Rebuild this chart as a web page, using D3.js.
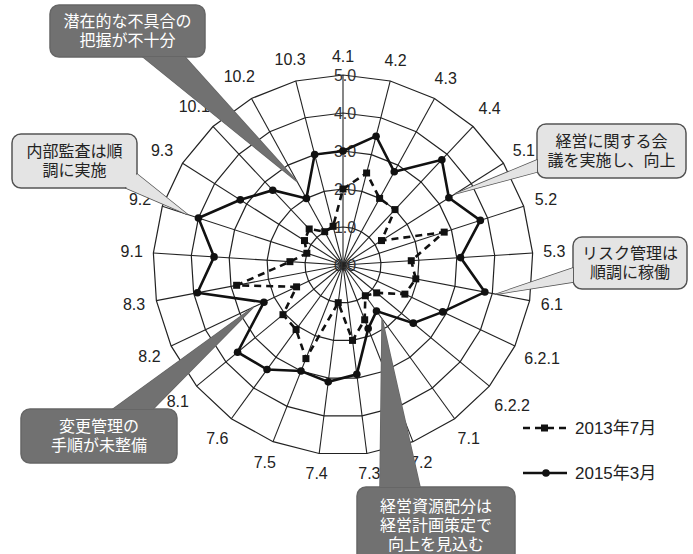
<!DOCTYPE html>
<html>
<head>
<meta charset="utf-8">
<script src="https://cdn.jsdelivr.net/npm/d3@7"></script>
<style>
  body { margin: 0; background: #fff; }
  svg { display: block; }
  text { font-family: "Liberation Sans", "Noto Sans CJK JP", sans-serif; }
  .jp { font-family: "Noto Sans CJK JP", sans-serif; }
</style>
</head>
<body>
<div class="graph"></div>
<script>
// categories clockwise from top
var categories = ["4.1", "4.2", "4.3", "4.4", "5.1", "5.2", "5.3", "6.1", "6.2.1", "6.2.2",
  "7.1", "7.2", "7.3", "7.4", "7.5", "7.6", "8.1", "8.2", "8.3", "9.1", "9.2", "9.3",
  "10.1", "10.2", "10.3"];

var values2013 = [2.0, 2.5, 2.0, 2.0, 1.2, 2.8, 1.8, 1.95, 1.8, 1.15,
  1.0, 1.55, 2.0, 1.0, 2.65, 2.1, 2.05, 1.35, 2.85, 1.4, 1.0, 1.2,
  1.3, 1.0, 1.05];

var values2015 = [3.0, 3.5, 2.8, 3.8, 3.3, 3.8, 3.1, 3.8, 2.9, 2.4,
  1.5, 1.8, 2.9, 3.1, 3.0, 3.4, 3.6, 2.3, 3.9, 3.4, 4.0, 3.2,
  2.7, 2.0, 3.0];

var tickValues = [0, 1, 2, 3, 4, 5];
var seriesNames = ["2013年7月", "2015年3月"];

// callouts: text lines, category / value the pointer aims at
var callouts = [
  { lines: ["潜在的な不具合の", "把握が不十分"], cat: "10.2", val: 2.5, dark: true,
    box: [50, 5, 155, 52], base: [[143, 57], [185, 57]] },
  { lines: ["内部監査は順", "調に実施"], cat: "9.2", val: 4.3, dark: false,
    box: [12, 134, 125, 54], base: [[126, 188], [137, 174]] },
  { lines: ["経営に関する会", "議を実施し、向上"], cat: "5.1", val: 3.5, dark: false,
    box: [537, 124, 149, 54], base: [[537, 160], [537, 172]] },
  { lines: ["リスク管理は", "順調に稼働"], cat: "6.1", val: 4.1, dark: false,
    box: [573, 237, 114, 52], base: [[573, 268], [573, 282]] },
  { lines: ["変更管理の", "手順が未整備"], cat: "8.2", val: 2.6, dark: true,
    box: [21, 409, 156, 54], base: [[113, 409], [153, 409]] },
  { lines: ["経営資源配分は", "経営計画策定で", "向上を見込む"], cat: "7.1", val: 1.75, dark: true,
    box: [357, 487, 158, 80], base: [[380, 487], [420, 487]] }
];

var width = 693, height = 554;
var cx = 343, cy = 265, R = 190;

var svg = d3.select(".graph").append("svg")
  .attr("width", width)
  .attr("height", height);

var r = d3.scaleLinear().domain([0, 5]).range([0, R]);
var angle = d3.scalePoint().domain(categories).range([0, 2 * Math.PI * (categories.length - 1) / categories.length]);

function pt(cat, v) {
  var a = angle(cat);
  return [cx + r(v) * Math.sin(a), cy - r(v) * Math.cos(a)];
}

var g = svg.append("g");

// rings
tickValues.slice(1).forEach(function (t) {
  g.append("path")
    .attr("d", d3.line()(categories.map(function (c) { return pt(c, t); })) + "Z")
    .attr("fill", "none")
    .attr("stroke", "#222")
    .attr("stroke-width", 1.2);
});

// spokes
g.selectAll(".spoke").data(categories).enter().append("line")
  .attr("x1", cx).attr("y1", cy)
  .attr("x2", function (d) { return pt(d, 5)[0]; })
  .attr("y2", function (d) { return pt(d, 5)[1]; })
  .attr("stroke", "#222")
  .attr("stroke-width", 1.1);

// tick labels
g.selectAll(".tick").data(tickValues).enter().append("text")
  .attr("x", cx + 2)
  .attr("y", function (d) { return cy - r(d); })
  .attr("dy", "0.35em")
  .attr("text-anchor", "middle")
  .attr("font-size", 16)
  .attr("fill", "#333")
  .text(function (d) { return d3.format(".1f")(d); });

// category labels
g.selectAll(".cat").data(categories).enter().append("text")
  .attr("font-size", 16)
  .attr("fill", "#222")
  .attr("text-anchor", "middle")
  .attr("dy", "0.35em")
  .text(function (d) { return d; })
  .each(function (d) {
    var a = angle(d);
    var w = this.getBBox().width;
    var rr = R + 10 + (w / 2) * Math.abs(Math.sin(a)) + 9 * Math.abs(Math.cos(a));
    d3.select(this)
      .attr("x", cx + rr * Math.sin(a))
      .attr("y", cy - rr * Math.cos(a));
  });

// series
var line = d3.line()
  .x(function (d, i) { return pt(categories[i], d)[0]; })
  .y(function (d, i) { return pt(categories[i], d)[1]; })
  .curve(d3.curveLinearClosed);

g.append("path")
  .attr("d", line(values2013))
  .attr("fill", "none")
  .attr("stroke", "#111")
  .attr("stroke-width", 2.6)
  .style("stroke-dasharray", "7, 5");

g.selectAll(".m13").data(values2013).enter().append("rect")
  .attr("x", function (d, i) { return pt(categories[i], d)[0] - 3.5; })
  .attr("y", function (d, i) { return pt(categories[i], d)[1] - 3.5; })
  .attr("width", 7).attr("height", 7)
  .attr("fill", "#111");

g.append("path")
  .attr("d", line(values2015))
  .attr("fill", "none")
  .attr("stroke", "#111")
  .attr("stroke-width", 2.6);

g.selectAll(".m15").data(values2015).enter().append("circle")
  .attr("cx", function (d, i) { return pt(categories[i], d)[0]; })
  .attr("cy", function (d, i) { return pt(categories[i], d)[1]; })
  .attr("r", 3.8)
  .attr("fill", "#111");

// callouts
callouts.forEach(function (c) {
  var tip = pt(c.cat, c.val);
  var fill = c.dark ? "#717171" : "#e4e4e4";
  var stroke = c.dark ? "#666" : "#555";
  var cg = svg.append("g");
  cg.append("rect")
    .attr("x", c.box[0]).attr("y", c.box[1])
    .attr("width", c.box[2]).attr("height", c.box[3])
    .attr("rx", 9).attr("ry", 9)
    .attr("fill", fill)
    .attr("stroke", stroke)
    .attr("stroke-width", 1.5);
  cg.append("path")
    .attr("d", "M" + c.base[0] + "L" + tip + "L" + c.base[1] + "Z")
    .attr("fill", fill)
    .attr("stroke", stroke)
    .attr("stroke-width", 1.5);
  // cover the seam between box and pointer
  cg.append("path")
    .attr("d", "M" + c.base[0] + "L" + tip + "L" + c.base[1] + "Z")
    .attr("fill", fill)
    .attr("stroke", "none")
    .attr("transform", "translate(0,0)");
  cg.append("rect")
    .attr("x", c.box[0] + 1).attr("y", c.box[1] + 1)
    .attr("width", c.box[2] - 2).attr("height", c.box[3] - 2)
    .attr("rx", 8).attr("ry", 8)
    .attr("fill", fill);
  var n = c.lines.length;
  var lh = 19;
  var midY = c.box[1] + (n === 3 ? 38 : c.box[3] / 2);
  c.lines.forEach(function (t, i) {
    cg.append("text")
      .attr("class", "jp")
      .attr("x", c.box[0] + c.box[2] / 2)
      .attr("y", midY + (i - (n - 1) / 2) * lh)
      .attr("dy", "0.35em")
      .attr("text-anchor", "middle")
      .attr("font-size", 16)
      .attr("fill", c.dark ? "#fff" : "#222")
      .text(t);
  });
});

// legend
var legend = svg.append("g").attr("transform", "translate(523, 428)");
legend.append("line")
  .attr("x1", 0).attr("x2", 44).attr("y1", 0).attr("y2", 0)
  .attr("stroke", "#111").attr("stroke-width", 2.6)
  .style("stroke-dasharray", "7, 5");
legend.append("rect")
  .attr("x", 18).attr("y", -3.5).attr("width", 7).attr("height", 7)
  .attr("fill", "#111");
legend.append("text")
  .attr("x", 52).attr("dy", "0.35em")
  .attr("font-size", 17).attr("fill", "#222")
  .text(seriesNames[0]);

var legend2 = svg.append("g").attr("transform", "translate(523, 473)");
legend2.append("line")
  .attr("x1", 0).attr("x2", 44).attr("y1", 0).attr("y2", 0)
  .attr("stroke", "#111").attr("stroke-width", 2.6);
legend2.append("circle")
  .attr("cx", 23).attr("cy", 0).attr("r", 3.8)
  .attr("fill", "#111");
legend2.append("text")
  .attr("x", 52).attr("dy", "0.35em")
  .attr("font-size", 17).attr("fill", "#222")
  .text(seriesNames[1]);
</script>
</body>
</html>
